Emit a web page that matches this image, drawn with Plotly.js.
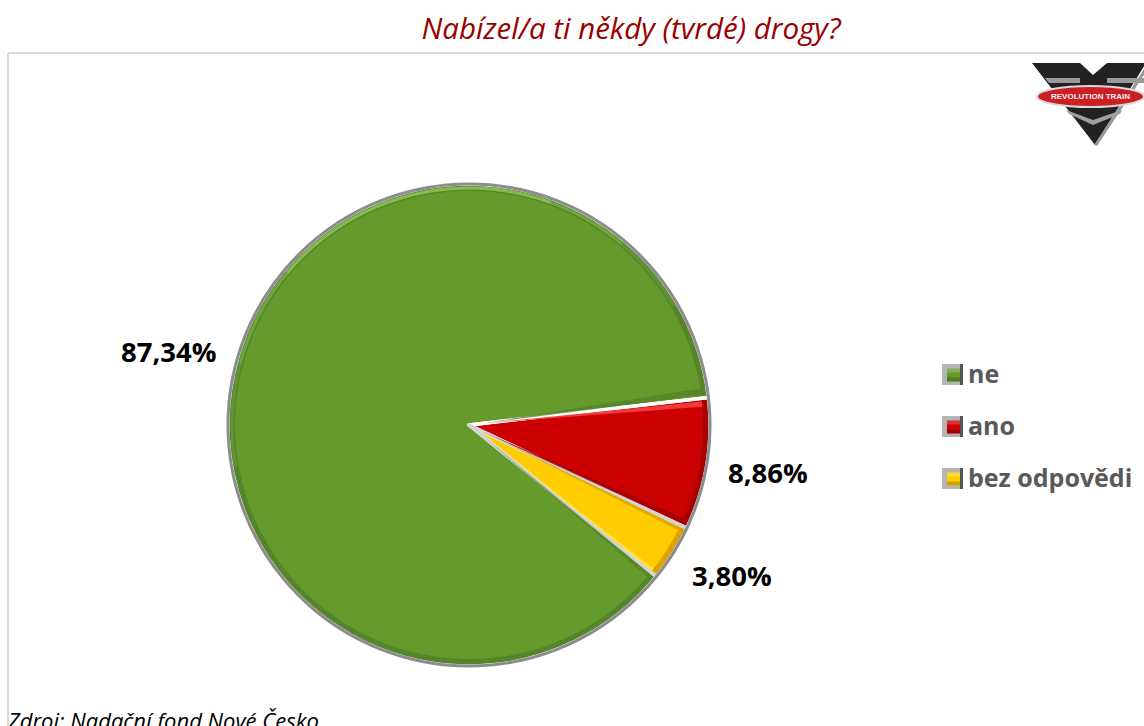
<!DOCTYPE html>
<html><head><meta charset="utf-8">
<script src="https://cdn.plot.ly/plotly-3.0.1.min.js"></script>
<style>html,body{margin:0;padding:0;background:#fff;overflow:hidden}#c{width:1144px;height:726px}</style>
</head><body><div id="c"></div>
<script>
const categories = ['ne','ano','bez odpovědi'];
const values = [87.34,8.86,3.80];
const mainColors = ['#669a2d','#cc0000','#ffcc00'];
const rimColors = ['#55852a','#a80000','#dca200'];
const sepColors = ['#ffffff','#ffffff','#d4d4d4'];
const titleText = 'Nabízel/a ti někdy (tvrdé) drogy?';
const sourceText = 'Zdroj: Nadační fond Nové Česko';
const W=1144,H=726,CX=469,CY=425,R=241,ROT=129;
const px=x=>x/W, py=y=>1-y/H;
const FONT='"Open Sans", sans-serif';
const pie=(r,colors,extra)=>Object.assign({type:'pie',values:values,labels:categories,sort:false,direction:'clockwise',rotation:ROT,
  textinfo:'none',hoverinfo:'label+percent',showlegend:false,
  domain:{x:[px(CX-r),px(CX+r)],y:[py(CY+r),py(CY-r)]},
  marker:{colors:colors,line:{width:0}}},extra||{});
const clear=['rgba(0,0,0,0)','rgba(0,0,0,0)','rgba(0,0,0,0)'];
const traces=[
  pie(R,rimColors),
  pie(R-7,mainColors),
  pie(R,clear,{marker:{colors:clear,line:{color:sepColors,width:[3.5,3.5,3.5]}}})
];
const rectP=(x0,y0,x1,y1,fill,extra)=>Object.assign({type:'rect',xref:'paper',yref:'paper',x0:px(x0),x1:px(x1),y0:py(y0),y1:py(y1),fillcolor:fill,line:{width:0}},extra||{});
const poly=(pts,fill)=>({type:'path',xref:'paper',yref:'paper',path:'M'+pts.map(p=>px(p[0])+','+py(p[1])).join(' L')+' Z',fillcolor:fill,line:{width:0}});
const polar=(a,r)=>[CX+r*Math.sin(a*Math.PI/180),CY-r*Math.cos(a*Math.PI/180)];
const arcPath=(a0,a1,r)=>{let s='';const n=30;for(let i=0;i<=n;i++){const p=polar(a0+(a1-a0)*i/n,r);
  s+=(i?' L':'M')+px(p[0])+','+py(p[1]);}return s;};
const arc=(a0,a1,r,color,w,op)=>({type:'path',xref:'paper',yref:'paper',path:arcPath(a0,a1,r),opacity:op,line:{color:color,width:w},fillcolor:'rgba(0,0,0,0)'});
// bevel wedges follow the slice boundaries
const bound=i=>ROT+values.slice(0,i).reduce((a,b)=>a+b,0)*3.6;
const wedge=(a,d1,d2,fill,op)=>Object.assign(poly([polar(a,14),polar(a+d1,R-7),polar(a+d2,R-7)],fill),{opacity:op});
const shapes=[
  {type:'line',xref:'paper',yref:'paper',x0:px(8),x1:1,y0:py(53),y1:py(53),line:{color:'#d9d9d9',width:2}},
  {type:'line',xref:'paper',yref:'paper',x0:px(8),x1:px(8),y0:py(53),y1:0,line:{color:'#d9d9d9',width:2}},
  // bevels along slice edges
  wedge(bound(1),-2.4,-0.7,'#557f28',0.75),
  wedge(bound(1),0.8,2.1,'#f23c3c',0.95),
  wedge(bound(2),-1.9,-0.5,'#a00000',0.8),
  wedge(bound(2),0.5,1.4,'#e0a400',0.9),
  wedge(bound(3),-1.1,-0.4,'#ffe04d',0.9),
  wedge(bound(3),0.4,1.4,'#4f7a26',0.55),
  // pie edge
  {type:'circle',xref:'paper',yref:'paper',x0:px(CX-R),x1:px(CX+R),y0:py(CY+R),y1:py(CY-R),line:{color:'#8c8c8c',width:3},fillcolor:'rgba(0,0,0,0)'},
  arc(-100,60,R-4,'#8fc254',3,0.25),
  arc(-75,40,R-4,'#8fc254',3,0.35),
  arc(-50,20,R-4,'#9ccf5e',3,0.5),
  // logo
  poly([[1032,63],[1080,63],[1093,75],[1107,63],[1146,63],[1095,145]],'#222222'),
  poly([[1146,66],[1146,72],[1097,146],[1094,145]],'#9a9a9a'),
  poly([[1045,78],[1080,78],[1080,83],[1049,83]],'#9a9a9a'),
  poly([[1107,78],[1146,78],[1146,83],[1107,83]],'#9a9a9a'),
  poly([[1066,110],[1093,120],[1122,110],[1120,114],[1093,125],[1069,114]],'#a0a0a0'),
  {type:'circle',xref:'paper',yref:'paper',x0:px(1037),x1:px(1144),y0:py(107),y1:py(86),fillcolor:'#cc1f24',line:{color:'#d8d8d8',width:2}}
];
const swatchY=[374.5,426.5,478.5];
const anns=[];
const label=(x,y,i)=>({xref:'paper',yref:'paper',x:px(x),y:py(y),xanchor:'center',yanchor:'middle',showarrow:false,
  text:'<b>'+values[i].toFixed(2).replace('.',',')+'%</b>',font:{family:FONT,size:27.5,color:'#000'}});
anns.push(label(169,351,0),label(768,472,1),label(732,575,2));
categories.forEach((c,i)=>{
  const y=swatchY[i];
  shapes.push(rectP(942,y-10.5,963,y+10.5,'#b4b4b4'));
  shapes.push(rectP(960,y-10.5,963,y+10.5,'#555555'));
  shapes.push(rectP(947,y-6,960,y+7,mainColors[i]));
  shapes.push(rectP(947,y-6,960,y-2,'#ffffff',{opacity:0.2}));
  shapes.push(rectP(947,y+3,960,y+7,'#000000',{opacity:0.2}));
  anns.push({xref:'paper',yref:'paper',x:px(966),y:py(y-2),xanchor:'left',yanchor:'middle',showarrow:false,
    text:'<b>'+c+'</b>',font:{family:FONT,size:25,color:'#595959'}});
});
anns.push({xref:'paper',yref:'paper',x:px(1090),y:py(96.5),xanchor:'center',yanchor:'middle',showarrow:false,
  text:'<b>REVOLUTION TRAIN</b>',font:{family:'"Liberation Sans", sans-serif',size:8,color:'#f2f2f2'}});
anns.push({xref:'paper',yref:'paper',x:px(5),y:py(720),xanchor:'left',yanchor:'middle',showarrow:false,
  text:'<i>'+sourceText+'</i>',font:{family:FONT,size:22,color:'#000'}});
Plotly.newPlot('c',traces,{
  width:W,height:H,margin:{l:0,r:0,t:0,b:0},paper_bgcolor:'#fff',plot_bgcolor:'#fff',showlegend:false,
  title:{text:'<i>'+titleText+'</i>',x:631/W,xanchor:'center',y:1-29/H,yanchor:'middle',font:{family:FONT,size:29.5,color:'#990000'}},
  shapes:shapes,annotations:anns
},{displayModeBar:false,responsive:false});
</script></body></html>
